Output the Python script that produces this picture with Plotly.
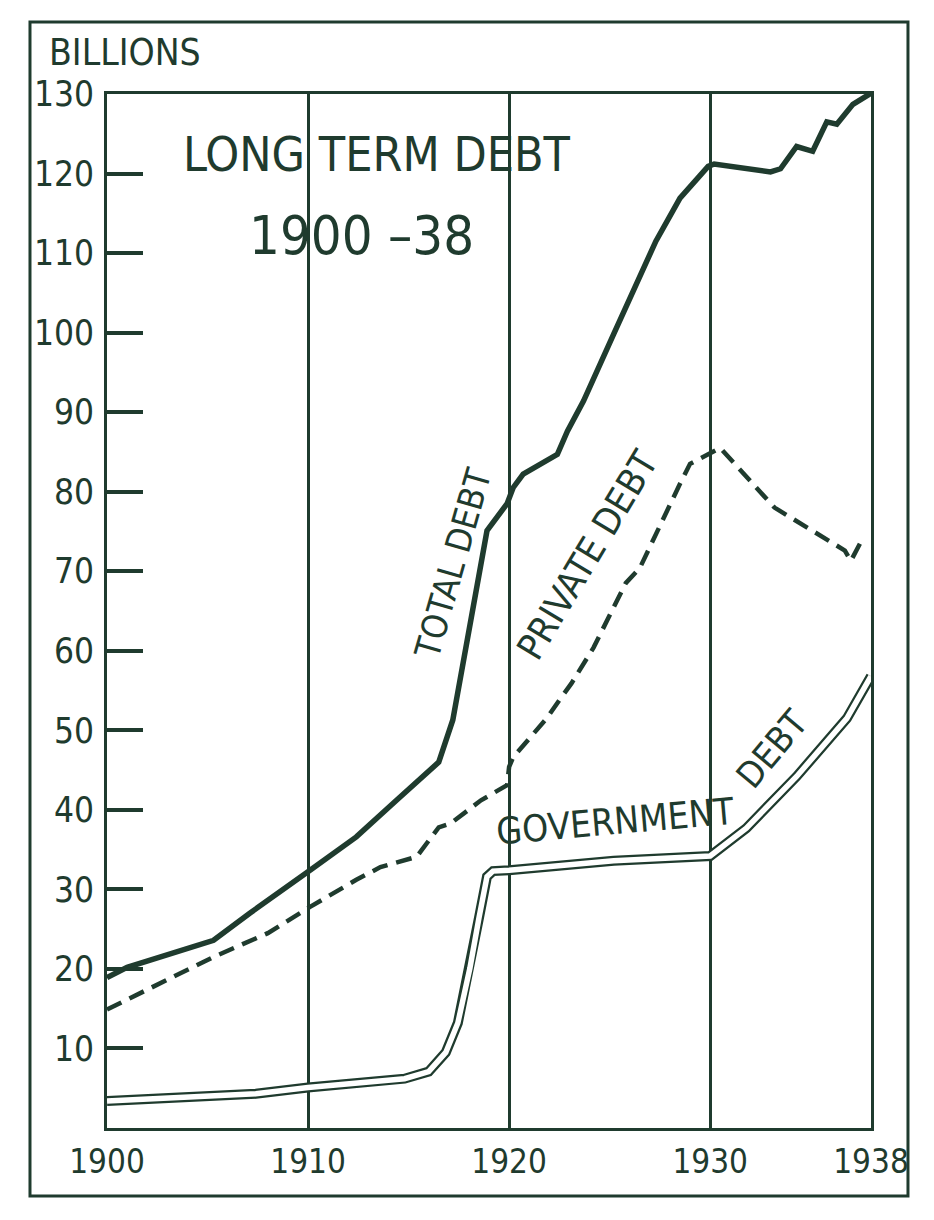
import plotly.graph_objects as go

INK = "#1f3b2e"
FONT = "DejaVu Sans Condensed, Liberation Sans Narrow, sans-serif"

# ---- data (billions of dollars) ----
total_years = [1900.0, 1901.0, 1905.3, 1907.1, 1910.1, 1912.4, 1914.4, 1916.5, 1917.2, 1918.0,
               1918.5, 1918.9, 1919.9, 1920.2, 1920.7, 1921.9, 1922.4, 1922.9, 1923.7, 1925.2,
               1927.3, 1928.5, 1929.9, 1930.2, 1933.0, 1933.5, 1934.3, 1935.1, 1935.8, 1936.3,
               1937.1, 1938.0]
total_debt = [18.9, 20.2, 23.6, 27.0, 32.4, 36.6, 41.2, 46.0, 51.3, 62.1,
              68.8, 75.1, 78.5, 80.5, 82.2, 83.9, 84.7, 87.6, 91.4, 99.8,
              111.5, 116.9, 120.9, 121.2, 120.2, 120.6, 123.4, 122.8, 126.5, 126.2,
              128.7, 130.1]

private_years = [1900.0, 1902.3, 1905.3, 1908.0, 1910.1, 1912.4, 1913.6, 1915.4, 1916.5, 1917.1,
                 1918.6, 1919.9, 1920.0, 1920.2, 1921.2, 1921.9, 1922.5, 1923.1, 1924.2, 1925.8,
                 1926.5, 1927.3, 1928.5, 1929.0, 1930.5, 1931.4, 1933.2, 1936.7, 1937.0, 1937.6]
private_debt = [14.9, 17.8, 21.5, 24.5, 27.8, 31.2, 32.8, 34.1, 37.8, 38.3,
                41.2, 43.1, 45.4, 46.6, 49.6, 51.6, 53.8, 55.9, 60.4, 68.5,
                70.4, 74.7, 81.0, 83.5, 85.5, 83.0, 78.0, 72.6, 71.3, 74.2]

gov_years = [1900.0, 1905.0, 1907.4, 1910.0, 1912.4, 1914.8, 1916.0, 1916.85, 1917.45, 1918.05,
             1918.5, 1918.9, 1919.2, 1920.0, 1925.2, 1930.0, 1931.8, 1934.3, 1936.8, 1938.0]
gov_debt = [3.4, 4.1, 4.3, 5.1, 5.6, 6.2, 7.1, 9.5, 13.2, 20.1,
            26.4, 31.6, 32.3, 32.4, 33.6, 34.2, 37.7, 44.2, 51.5, 56.8]

x_ticks = [1900, 1910, 1920, 1930, 1938]
y_ticks = [10, 20, 30, 40, 50, 60, 70, 80, 90, 100, 110, 120, 130]
y_grid = [50, 100]

fig = go.Figure()

# government debt: double line (dark wide line with a white core)
fig.add_trace(go.Scatter(x=gov_years, y=gov_debt, mode="lines",
                         line=dict(color=INK, width=10), hoverinfo="skip", showlegend=False))
fig.add_trace(go.Scatter(x=gov_years, y=gov_debt, mode="lines",
                         line=dict(color="white", width=5.5), showlegend=False,
                         name="Government debt"))
# private debt: dashed
fig.add_trace(go.Scatter(x=private_years, y=private_debt, mode="lines",
                         line=dict(color=INK, width=4.5, dash="16px,9px"),
                         showlegend=False, name="Private debt"))
# total debt: heavy solid
fig.add_trace(go.Scatter(x=total_years, y=total_debt, mode="lines",
                         line=dict(color=INK, width=5.5), showlegend=False,
                         name="Total debt"))

annotations = [
    dict(text="BILLIONS", xref="paper", yref="paper", x=-0.0785, y=1.0406,
         xanchor="left", yanchor="middle", font=dict(size=37)),
    dict(text="LONG TERM DEBT", x=1913.45, y=122.5, font=dict(size=48)),
    dict(text="1900 \u201338", x=1912.66, y=112.2, font=dict(size=54)),
    dict(text="TOTAL DEBT", x=1917.2, y=70.95, textangle=-74, font=dict(size=35)),
    dict(text="PRIVATE DEBT", x=1923.9, y=72.0, textangle=-59, font=dict(size=37)),
    dict(text="GOVERNMENT", x=1925.3, y=38.5, textangle=-5, font=dict(size=37)),
    dict(text="DEBT", x=1933.1, y=47.7, textangle=-50, font=dict(size=36)),
]
for a in annotations:
    a.setdefault("xref", "x")
    a.setdefault("yref", "y")
    a["showarrow"] = False
    a["font"].update(family=FONT, color=INK)

fig.update_layout(
    width=934, height=1220,
    margin=dict(l=99, r=71, t=86, b=100),
    paper_bgcolor="white", plot_bgcolor="white",
    font=dict(family=FONT, color=INK),
    annotations=annotations,
    shapes=[dict(type="rect", xref="paper", yref="paper",
                 x0=-0.1008, x1=1.0484, y0=-0.0658, y1=1.0696,
                 line=dict(color=INK, width=3))],
    xaxis=dict(range=[1900, 1938], tickvals=x_ticks, ticktext=[str(v) for v in x_ticks],
               showgrid=True, gridcolor=INK, gridwidth=2.5, zeroline=False,
               showline=True, linecolor=INK, linewidth=3, mirror=True,
               ticks="", tickfont=dict(size=33, family=FONT, color=INK),
               ticklabelstandoff=2, fixedrange=True),
    yaxis=dict(range=[0, 130], tickvals=y_ticks, ticktext=[str(v) for v in y_ticks],
               showgrid=False, zeroline=False,
               showline=True, linecolor=INK, linewidth=3, mirror=True,
               ticks="inside", ticklen=36, tickwidth=4, tickcolor=INK,
               tickfont=dict(size=35, family=FONT, color=INK),
               ticklabelstandoff=3, fixedrange=True),
    yaxis2=dict(range=[0, 130], overlaying="y", anchor="x", side="left",
                tickvals=y_grid, showticklabels=False, ticks="",
                showgrid=True, gridcolor=INK, gridwidth=2, zeroline=False,
                showline=False, fixedrange=True),
)

fig.write_html("out.html")
